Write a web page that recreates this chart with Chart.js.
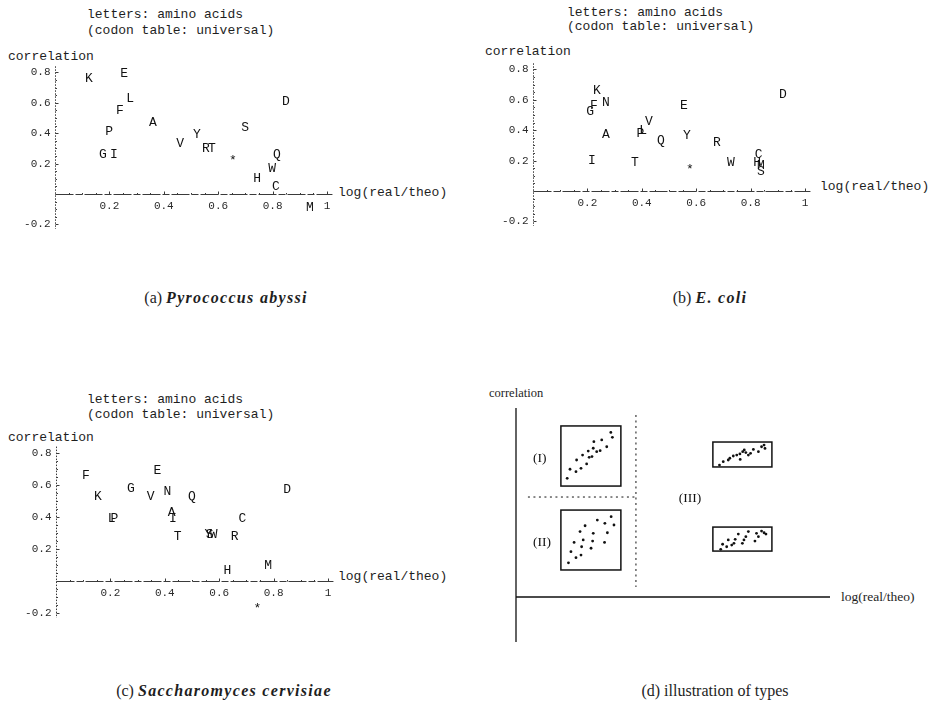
<!DOCTYPE html>
<html>
<head>
<meta charset="utf-8">
<script src="https://cdn.jsdelivr.net/npm/chart.js@4.4.0/dist/chart.umd.min.js"></script>
<style>
body { margin:0; width:933px; height:706px; background:#fff; position:relative; overflow:hidden; color:#1e1e1e; }
canvas { position:absolute; }
.t { position:absolute; white-space:pre; font-family:"Liberation Mono", monospace; font-size:13px; line-height:13px; }
.s { position:absolute; white-space:pre; font-family:"Liberation Serif", serif; line-height:14px; }
.cap { position:absolute; white-space:pre; font-family:"Liberation Serif", serif; font-size:16px; line-height:16px; transform:translateX(-50%); }
.cap i { font-weight:bold; letter-spacing:1.3px; }
</style>
</head>
<body>

<!-- panel (a) -->
<div class="t" style="left:87px;top:8px">letters: amino acids</div>
<div class="t" style="left:87px;top:24px">(codon table: universal)</div>
<div class="t" style="left:8px;top:50px">correlation</div>
<div class="t" style="left:338px;top:186px">log(real/theo)</div>
<canvas id="chartA" width="466" height="240" style="left:0;top:0"></canvas>
<div class="cap" style="left:226px;top:290px">(a) <i>Pyrococcus abyssi</i></div>

<!-- panel (b) -->
<div class="t" style="left:567px;top:6px">letters: amino acids</div>
<div class="t" style="left:567px;top:20px">(codon table: universal)</div>
<div class="t" style="left:485px;top:45px">correlation</div>
<div class="t" style="left:820px;top:180px">log(real/theo)</div>
<canvas id="chartB" width="467" height="240" style="left:466px;top:0"></canvas>
<div class="cap" style="left:710px;top:290px">(b) <i>E. coli</i></div>

<!-- panel (c) -->
<div class="t" style="left:87px;top:393px">letters: amino acids</div>
<div class="t" style="left:87px;top:408px">(codon table: universal)</div>
<div class="t" style="left:8px;top:431px">correlation</div>
<div class="t" style="left:338px;top:570px">log(real/theo)</div>
<canvas id="chartC" width="466" height="250" style="left:0;top:380px"></canvas>
<div class="cap" style="left:224px;top:683px">(c) <i>Saccharomyces cervisiae</i></div>

<!-- panel (d) -->
<div class="s" style="left:489px;top:386px;font-size:12.5px">correlation</div>
<div class="s" style="left:841px;top:590px;font-size:13.5px">log(real/theo)</div>
<canvas id="chartD" width="467" height="290" style="left:466px;top:380px"></canvas>
<div class="cap" style="left:715px;top:683px">(d) illustration of types</div>

<script>
// tick labels shared by the three scatter panels
const tickX = [0.2, 0.4, 0.6, 0.8, 1];
const tickY = [-0.2, 0.2, 0.4, 0.6, 0.8];

// (a) Pyrococcus abyssi
const aLetters = ['K', 'E', 'L', 'F', 'A', 'P', 'G', 'I', 'V', 'Y', 'R', 'T', '*', 'S', 'D', 'Q', 'W', 'H', 'C', 'M'];
const aX = [0.125, 0.254, 0.276, 0.239, 0.36, 0.199, 0.176, 0.217, 0.46, 0.522, 0.555, 0.577, 0.654, 0.699, 0.849, 0.816, 0.798, 0.743, 0.812, 0.937];
const aY = [0.757, 0.79, 0.625, 0.546, 0.47, 0.41, 0.257, 0.257, 0.335, 0.388, 0.296, 0.296, 0.217, 0.44, 0.605, 0.257, 0.17, 0.099, 0.046, -0.086];

// (b) E. coli
const bLetters = ['K', 'N', 'F', 'G', 'A', 'V', 'P', 'L', 'Q', 'Y', 'E', 'R', 'I', 'T', '*', 'W', 'C', 'H', 'M', 'S', 'D'];
const bX = [0.235, 0.268, 0.224, 0.21, 0.268, 0.426, 0.395, 0.405, 0.47, 0.566, 0.555, 0.676, 0.217, 0.375, 0.577, 0.728, 0.83, 0.824, 0.838, 0.838, 0.919];
const bY = [0.66, 0.58, 0.56, 0.52, 0.37, 0.455, 0.38, 0.40, 0.335, 0.362, 0.565, 0.316, 0.197, 0.19, 0.138, 0.184, 0.237, 0.19, 0.17, 0.125, 0.632];

// (c) Saccharomyces cervisiae
const cLetters = ['F', 'K', 'E', 'G', 'V', 'N', 'Q', 'D', 'L', 'P', 'A', 'I', 'T', 'Y', 'S', 'W', 'R', 'C', 'H', 'M', '*'];
const cX = [0.11, 0.154, 0.373, 0.275, 0.348, 0.41, 0.50, 0.85, 0.205, 0.215, 0.425, 0.43, 0.447, 0.56, 0.565, 0.58, 0.657, 0.685, 0.63, 0.78, 0.74];
const cY = [0.66, 0.525, 0.69, 0.58, 0.525, 0.56, 0.525, 0.57, 0.39, 0.39, 0.43, 0.39, 0.275, 0.29, 0.29, 0.29, 0.275, 0.39, 0.063, 0.094, -0.17];

// (d) illustration: dots of the four mini plots
const d1X = [0.163, 0.172, 0.191, 0.207, 0.225, 0.193, 0.212, 0.230, 0.233, 0.242, 0.246, 0.257, 0.268, 0.273, 0.289, 0.248, 0.302, 0.307];
const d1Y = [0.628, 0.676, 0.663, 0.681, 0.704, 0.725, 0.751, 0.772, 0.739, 0.743, 0.787, 0.769, 0.774, 0.831, 0.795, 0.822, 0.871, 0.845];
const d2X = [0.167, 0.175, 0.191, 0.207, 0.209, 0.185, 0.204, 0.220, 0.214, 0.239, 0.244, 0.246, 0.259, 0.283, 0.291, 0.282, 0.303, 0.312];
const d2Y = [0.181, 0.240, 0.208, 0.222, 0.266, 0.289, 0.346, 0.377, 0.302, 0.258, 0.296, 0.337, 0.407, 0.390, 0.340, 0.289, 0.425, 0.381];
const d3X = [0.648, 0.660, 0.676, 0.681, 0.692, 0.703, 0.713, 0.722, 0.727, 0.732, 0.740, 0.747, 0.756, 0.772, 0.782, 0.790, 0.793, 0.714];
const d3Y = [0.698, 0.716, 0.725, 0.734, 0.746, 0.751, 0.757, 0.769, 0.778, 0.764, 0.751, 0.760, 0.781, 0.769, 0.795, 0.804, 0.786, 0.728];
const d4X = [0.652, 0.658, 0.671, 0.676, 0.687, 0.694, 0.698, 0.708, 0.721, 0.726, 0.732, 0.740, 0.761, 0.766, 0.772, 0.782, 0.790, 0.796];
const d4Y = [0.252, 0.279, 0.266, 0.302, 0.275, 0.284, 0.305, 0.333, 0.284, 0.302, 0.319, 0.346, 0.296, 0.337, 0.319, 0.349, 0.340, 0.333];

// boxes [xmin, xmax, ymin, ymax] and region names of panel (d)
const frames = [[0.143, 0.334, 0.587, 0.905], [0.143, 0.334, 0.143, 0.46], [0.627, 0.815, 0.688, 0.82], [0.627, 0.815, 0.243, 0.37]];
const regionNames = ['(I)', '(II)', '(III)'];
const regionX = [0.076, 0.083, 0.554];
const regionY = [0.735, 0.291, 0.524];


function toPoints(xs, ys) {
    return xs.map((x, i) => ({ x: x, y: ys[i] }));
}

// Mathematica style axes crossing at the origin
const mathAxes = {
    id: 'mathAxes',
    beforeDatasetsDraw(chart, args, opts) {
        const ctx = chart.ctx;
        const sx = chart.scales.x;
        const sy = chart.scales.y;
        const x0 = Math.round(sx.getPixelForValue(0)) + 0.5;
        const y0 = Math.round(sy.getPixelForValue(0)) + 0.5;

        ctx.save();
        ctx.strokeStyle = '#3a3a3a';
        ctx.lineWidth = 1;

        ctx.setLineDash([1.5, 1.5]);
        ctx.beginPath();
        ctx.moveTo(x0, sy.getPixelForValue(opts.yTop));
        ctx.lineTo(x0, sy.getPixelForValue(opts.yBottom));
        ctx.stroke();

        ctx.setLineDash([18, 2, 7, 2]);
        ctx.beginPath();
        ctx.moveTo(x0, y0);
        ctx.lineTo(sx.getPixelForValue(opts.xRight), y0);
        ctx.stroke();
        ctx.setLineDash([]);

        // minor and major ticks
        for (let v = -0.2; v <= 0.8001; v += 0.05) {
            const py = Math.round(sy.getPixelForValue(v)) + 0.5;
            const major = Math.abs(v * 5 - Math.round(v * 5)) < 0.01;
            ctx.beginPath();
            ctx.moveTo(x0, py);
            ctx.lineTo(x0 + (major ? 3 : 1.5), py);
            ctx.stroke();
        }
        for (let v = 0.05; v <= 1.0001; v += 0.05) {
            const px = Math.round(sx.getPixelForValue(v)) + 0.5;
            const major = Math.abs(v * 5 - Math.round(v * 5)) < 0.01;
            ctx.beginPath();
            ctx.moveTo(px, y0);
            ctx.lineTo(px, y0 - (major ? 3 : 1.5));
            ctx.stroke();
        }

        ctx.fillStyle = '#2a2a2a';
        ctx.font = '11px "Liberation Mono", monospace';
        ctx.textAlign = 'right';
        ctx.textBaseline = 'middle';
        tickY.forEach(v => ctx.fillText(String(v), x0 - 5, sy.getPixelForValue(v)));
        ctx.textAlign = 'center';
        ctx.textBaseline = 'top';
        tickX.forEach(v => ctx.fillText(String(v), sx.getPixelForValue(v), y0 + 6));
        ctx.restore();
    }
};

// letters drawn at each point
const letterMarks = {
    id: 'letterMarks',
    afterDatasetsDraw(chart) {
        const ctx = chart.ctx;
        ctx.save();
        ctx.fillStyle = '#111';
        ctx.font = '13px "Liberation Mono", monospace';
        ctx.textAlign = 'center';
        ctx.textBaseline = 'middle';
        chart.data.datasets.forEach((ds, i) => {
            if (!ds.letters) return;
            chart.getDatasetMeta(i).data.forEach((el, j) => {
                ctx.fillText(ds.letters[j], el.x, el.y);
            });
        });
        ctx.restore();
    }
};

function letterChart(id, letters, xs, ys, pad, axes) {
    const ctx = document.getElementById(id).getContext('2d');
    return new Chart(ctx, {
        type: 'scatter',
        data: {
            datasets: [{
                data: toPoints(xs, ys),
                letters: letters,
                pointRadius: 0,
                clip: false
            }]
        },
        options: {
            responsive: false,
            animation: false,
            layout: { padding: pad },
            scales: {
                x: { type: 'linear', min: 0, max: 1, display: false },
                y: { type: 'linear', min: -0.2, max: 0.8, display: false }
            },
            plugins: {
                legend: { display: false },
                tooltip: { enabled: false },
                mathAxes: axes
            }
        },
        plugins: [mathAxes, letterMarks]
    });
}

letterChart('chartA', aLetters, aX, aY,
    { left: 55, right: 139, top: 72.4, bottom: 15.6 },
    { yTop: 0.84, yBottom: -0.23, xRight: 1.02 });

letterChart('chartB', bLetters, bX, bY,
    { left: 67, right: 128, top: 69.4, bottom: 18.6 },
    { yTop: 0.84, yBottom: -0.23, xRight: 1.02 });

letterChart('chartC', cLetters, cX, cY,
    { left: 56, right: 138, top: 73, bottom: 17 },
    { yTop: 0.84, yBottom: -0.23, xRight: 1.02 });


// panel (d): sketch of the three types
const sketch = {
    id: 'sketch',
    beforeDatasetsDraw(chart) {
        const ctx = chart.ctx;
        const sx = chart.scales.x;
        const sy = chart.scales.y;
        const px = v => sx.getPixelForValue(v);
        const py = v => sy.getPixelForValue(v);

        ctx.save();
        ctx.strokeStyle = '#111';
        ctx.lineWidth = 1.3;
        ctx.beginPath();
        ctx.moveTo(px(0), py(1.0));
        ctx.lineTo(px(0), py(-0.238));
        ctx.moveTo(px(0), py(0));
        ctx.lineTo(px(1), py(0));
        ctx.stroke();

        // dotted separators between the types
        ctx.lineWidth = 1;
        ctx.setLineDash([2, 3.5]);
        ctx.beginPath();
        ctx.moveTo(px(0.382), py(0.963));
        ctx.lineTo(px(0.382), py(0.053));
        ctx.moveTo(px(0.038), py(0.529));
        ctx.lineTo(px(0.382), py(0.529));
        ctx.stroke();
        ctx.setLineDash([]);

        ctx.lineWidth = 1.5;
        frames.forEach(f => {
            ctx.strokeRect(px(f[0]), py(f[3]), px(f[1]) - px(f[0]), py(f[2]) - py(f[3]));
        });

        ctx.fillStyle = '#111';
        ctx.font = '13.5px "Liberation Serif", serif';
        ctx.textAlign = 'center';
        ctx.textBaseline = 'middle';
        regionNames.forEach((name, i) => ctx.fillText(name, px(regionX[i]), py(regionY[i])));
        ctx.restore();
    }
};

const dotStyle = { pointRadius: 1.4, pointBackgroundColor: '#111', pointBorderWidth: 0, clip: false };

new Chart(document.getElementById('chartD').getContext('2d'), {
    type: 'scatter',
    data: {
        datasets: [
            Object.assign({ data: toPoints(d1X, d1Y) }, dotStyle),
            Object.assign({ data: toPoints(d2X, d2Y) }, dotStyle),
            Object.assign({ data: toPoints(d3X, d3Y) }, dotStyle),
            Object.assign({ data: toPoints(d4X, d4Y) }, dotStyle)
        ]
    },
    options: {
        responsive: false,
        animation: false,
        layout: { padding: { left: 50, right: 103, top: 28, bottom: 73 } },
        scales: {
            x: { type: 'linear', min: 0, max: 1, display: false },
            y: { type: 'linear', min: 0, max: 1, display: false }
        },
        plugins: {
            legend: { display: false },
            tooltip: { enabled: false }
        }
    },
    plugins: [sketch]
});
</script>
</body>
</html>
